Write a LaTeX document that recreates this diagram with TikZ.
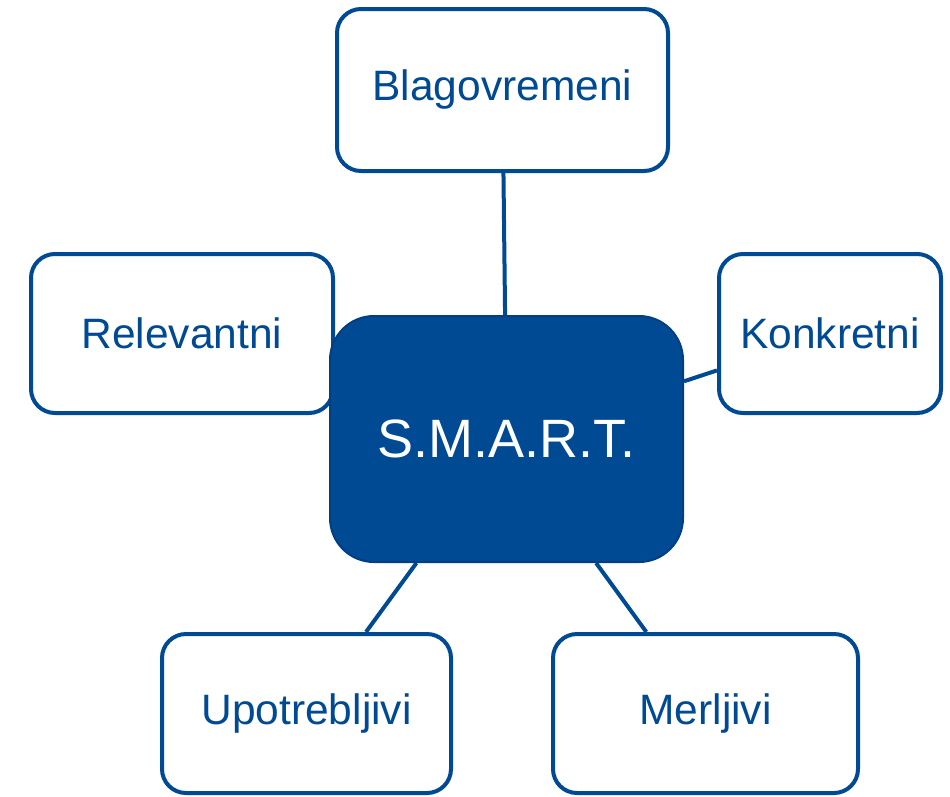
\documentclass[tikz,border=0pt]{standalone}
\usepackage{fontspec}
\setmainfont{Liberation Sans}
\usetikzlibrary{backgrounds}
\definecolor{sblue}{HTML}{004A94}
\definecolor{sedge}{HTML}{003F84}
\begin{document}
\begin{tikzpicture}[x=1pt,y=-1pt,
 leaf/.style={draw=sblue, line width=4pt, fill=white, rounded corners=24pt, text=sblue,
   font=\fontsize{42.5}{50}\selectfont, inner sep=0pt},
 hub/.style={draw=sedge, line width=2pt, fill=sblue, rounded corners=44pt, text=white,
   font=\fontsize{54}{60}\selectfont, inner sep=0pt},
 link/.style={draw=sblue, line width=4pt}]
\useasboundingbox (0,0) rectangle (950,796);
\node[leaf, minimum width=331pt, minimum height=162pt] (blag) at (502.5,90) {Blagovremeni};
\node[leaf, minimum width=302pt, minimum height=159pt] (rel) at (182,333.5) {Relevantni};
\node[leaf, minimum width=222pt, minimum height=159pt] (kon) at (830,333.5) {Konkretni};
\node[leaf, minimum width=289pt, minimum height=159pt] (upo) at (306.5,713.5) {Upotrebljivi};
\node[leaf, minimum width=305pt, minimum height=159pt] (mer) at (705.5,713.5) {Merljivi};
\node[hub, minimum width=353pt, minimum height=246pt] (smart) at (506.5,439) {S.M.A.R.T.};
\begin{scope}[on background layer]
\draw[link] (blag) -- (smart);
\draw[link] (kon) -- (smart);
\draw[link] (upo) -- (smart);
\draw[link] (mer) -- (smart);
\end{scope}
\end{tikzpicture}
\end{document}
